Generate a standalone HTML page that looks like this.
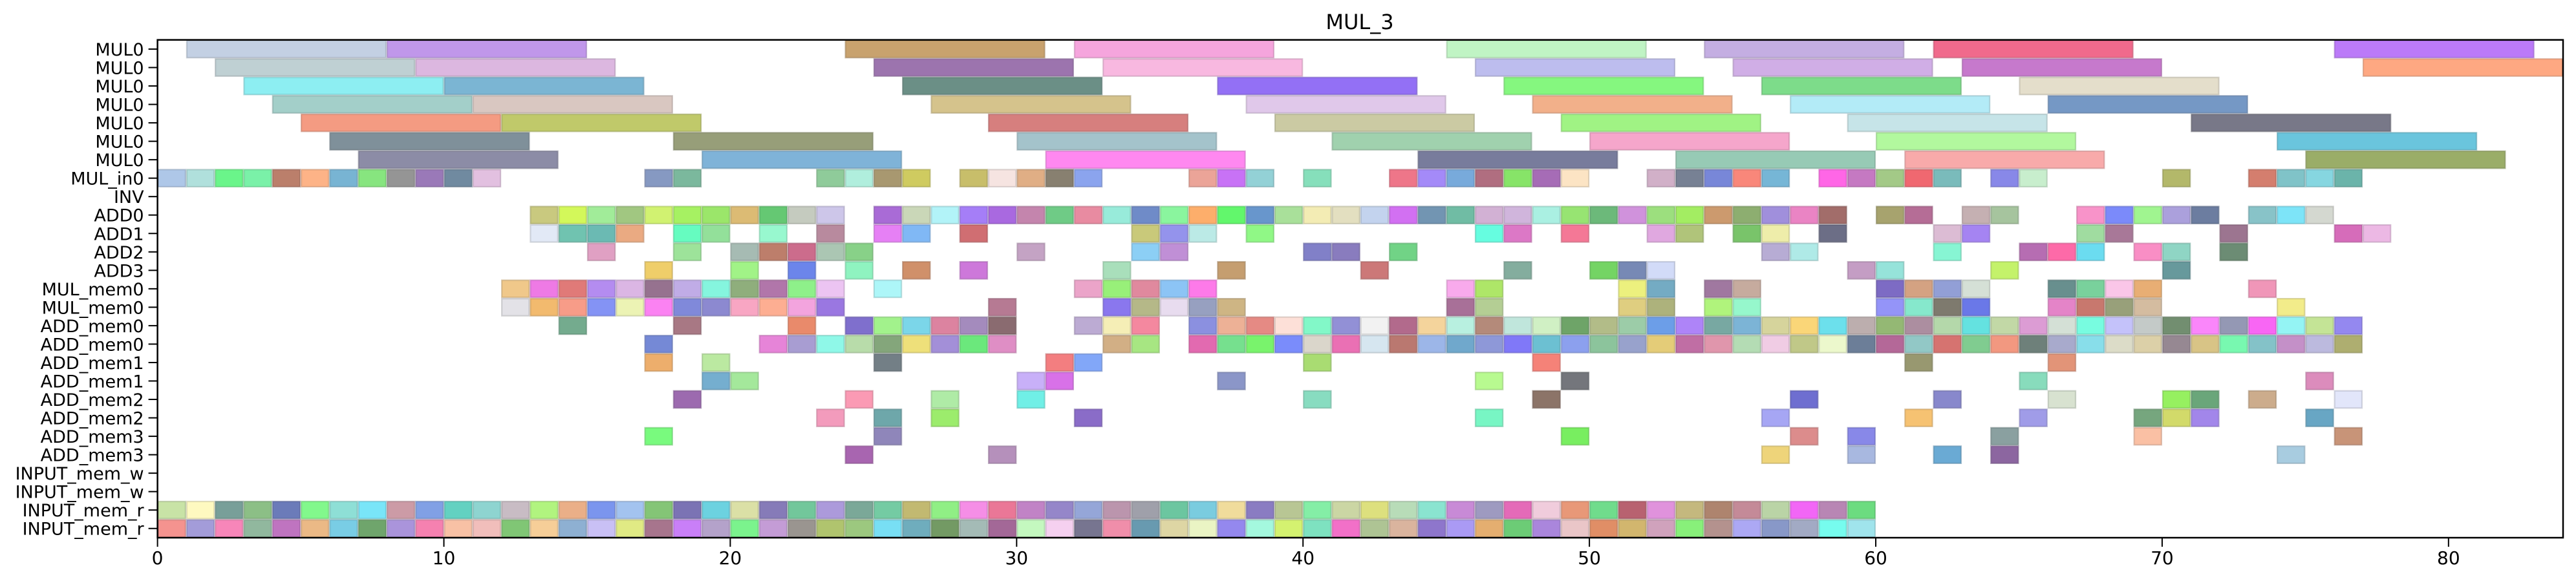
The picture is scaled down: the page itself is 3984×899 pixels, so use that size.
<!DOCTYPE html>
<html><head><meta charset="utf-8"><title>MUL_3</title>
<style>
html,body{margin:0;padding:0;background:#fff;}
svg{display:block;font-family:"DejaVu Sans","Liberation Sans",sans-serif;}
</style></head>
<body>
<svg id="chart" width="3984" height="899" viewBox="0 0 3984 899" xmlns="http://www.w3.org/2000/svg">
<rect x="0" y="0" width="3984" height="899" fill="#fff"/>
<text x="2103" y="45" font-size="32" text-anchor="middle" fill="#000">MUL_3</text>
<g id="bars"></g>
<g id="yaxis"></g>
<g id="xaxis"></g>
<rect x="243.6" y="61.7" width="3720.4" height="770.3" fill="none" stroke="#000" stroke-width="2.5"/>
</svg>
<script>
const rowLabels = ["MUL0","MUL0","MUL0","MUL0","MUL0","MUL0","MUL0","MUL_in0","INV","ADD0","ADD1","ADD2","ADD3","MUL_mem0","MUL_mem0","ADD_mem0","ADD_mem0","ADD_mem1","ADD_mem1","ADD_mem2","ADD_mem2","ADD_mem3","ADD_mem3","INPUT_mem_w","INPUT_mem_w","INPUT_mem_r","INPUT_mem_r"];
const rowDurations = [7,7,7,7,7,7,7,1,1,1,1,1,1,1,1,1,1,1,1,1,1,1,1,1,1,1,1];
const xTicks = [0,10,20,30,40,50,60,70,80];
const xMax = 84;
const rowStarts = [
 [1,8,24,32,45,54,62,76],
 [2,9,25,33,46,55,63,77],
 [3,10,26,37,47,56,65],
 [4,11,27,38,48,57,66],
 [5,12,29,39,49,59,71],
 [6,18,30,41,50,60,74],
 [7,19,31,44,53,61,75],
 [0,1,2,3,4,5,6,7,8,9,10,11,17,18,23,24,25,26,28,29,30,31,32,36,37,38,40,43,44,45,46,47,48,49,52,53,54,55,56,58,59,60,61,62,64,65,70,73,74,75,76],
 [],
 [13,14,15,16,17,18,19,20,21,22,23,25,26,27,28,29,30,31,32,33,34,35,36,37,38,39,40,41,42,43,44,45,46,47,48,49,50,51,52,53,54,55,56,57,58,60,61,63,64,67,68,69,70,71,73,74,75],
 [13,14,15,16,18,19,21,23,25,26,28,34,35,36,38,46,47,49,52,53,55,56,58,62,63,67,68,72,76,77],
 [15,18,20,21,22,23,24,30,34,35,40,41,43,56,57,62,65,66,67,69,70,72],
 [17,20,22,24,26,28,33,37,42,47,50,51,52,59,60,64,70],
 [12,13,14,15,16,17,18,19,20,21,22,23,25,32,33,34,35,36,45,46,51,52,54,55,60,61,62,63,66,67,68,69,73],
 [12,13,14,15,16,17,18,19,20,21,22,23,29,33,34,35,36,37,45,46,51,52,54,55,60,61,62,63,66,67,68,69,74],
 [14,18,22,24,25,26,27,28,29,32,33,34,36,37,38,39,40,41,42,43,44,45,46,47,48,49,50,51,52,53,54,55,56,57,58,59,60,61,62,63,64,65,66,67,68,69,70,71,72,73,74,75,76],
 [17,21,22,23,24,25,26,27,28,29,33,34,36,37,38,39,40,41,42,43,44,45,46,47,48,49,50,51,52,53,54,55,56,57,58,59,60,61,62,63,64,65,66,67,68,69,70,71,72,73,74,75,76],
 [17,19,25,31,32,40,48,61,66],
 [19,20,30,31,37,46,49,65,75],
 [18,24,27,30,40,48,57,62,66,70,71,73,76],
 [23,25,27,32,46,56,61,65,69,70,71,75],
 [17,25,49,57,59,64,69,76],
 [24,29,56,59,62,64,74],
 [],
 [],
 [0,1,2,3,4,5,6,7,8,9,10,11,12,13,14,15,16,17,18,19,20,21,22,23,24,25,26,27,28,29,30,31,32,33,34,35,36,37,38,39,40,41,42,43,44,45,46,47,48,49,50,51,52,53,54,55,56,57,58,59],
 [0,1,2,3,4,5,6,7,8,9,10,11,12,13,14,15,16,17,18,19,20,21,22,23,24,25,26,27,28,29,30,31,32,33,34,35,36,37,38,39,40,41,42,43,44,45,46,47,48,49,50,51,52,53,54,55,56,57,58,59]
];
const rowColors = [
 ["#c3d0e3","#c097ea","#c8a26e","#f5a5dd","#c0f4c4","#c4aee2","#f06a8c","#bb7af8"],
 ["#bfd0d3","#dcb7e0","#9c74ae","#f8b8e0","#bdbdee","#d0aee6","#c679cc","#fea882"],
 ["#8deef2","#7bb5d3","#6b8f86","#9370f5","#85f77f","#7ddc8a","#e4decb"],
 ["#a3cfc9","#d9c7c1","#d5c38c","#e0c8ea","#f2b08a","#b3ebf7","#7598c5"],
 ["#f49b82","#c0c96a","#d67f7e","#cbcaa3","#a0f384","#c6e4e8","#787888"],
 ["#7f909a","#979e79","#a4c3cb","#a0d1ae","#f5a6cb","#b2f89e","#6ac5dd"],
 ["#8c8ca6","#7fb3d8","#ff88f0","#787c9c","#97cab5","#f8aaaa","#9aad68"],
 ["#aec7e8","#b0e0dc","#6af58a","#7af1a8","#bb7f6b","#fdb387","#78b4d3","#87e57f","#959595","#9a79b8","#708aa0","#e2c0e0","#8699c2","#7bb89d","#8fcb9a","#b0eedd","#a89870","#cfcb60","#c8be6a","#f6e4e1","#e0ae85","#888070","#8ba4ee","#eba498","#c872f6","#93d1d6","#86dfbb","#ee7689","#a48af8","#78aadb","#b06e80","#87e468","#a66cb6","#fce4c4","#d1b0c8","#778194","#7887d8","#f9877a","#76b6d6","#ff66e6","#c579c2","#a3c987","#f06870","#7abbbb","#8888e8","#c8eecd","#b3b86a","#d47e6e","#80c3c8","#86d6e0","#6bb4aa"],
 [],
 ["#c9c97f","#d3f85a","#a1ec99","#a1c781","#d1f271","#a6f162","#9be66a","#dcbb74","#65c873","#c5cbbf","#cdc6e9","#a96bd6","#cad7b8","#b2f3f8","#a57ef7","#a969e0","#c485ad","#6fcb86","#e88ba1","#98ebda","#6f8bc8","#8af59e","#fdae6b","#62f76c","#6896cc","#a9e09a","#f3ecb4","#e3dfc0","#c3d3ee","#d270f2","#7295b2","#70bca4","#d2b1d4","#d0b5dc","#aaf0e2","#97e472","#6cb97a","#d092dc","#9cdf7e","#a3ed62","#cc9a6e","#8dae70","#a08fdc","#ea84c4","#a26d6a","#a7a36e","#b56d96","#c5b0b2","#a6c49e","#f893c9","#7b8afa","#a0f590","#aba0dc","#6c7da0","#88c3c8","#7de4f8","#d4d8d0"],
 ["#e2e9f6","#70c3b0","#6bbab3","#eaaa82","#66fcc0","#93e09a","#98f8cf","#b88a9e","#e680f5","#80b8f5","#d06e72","#c9c97a","#9493ec","#bbeae6","#90f886","#66fde0","#dc78c6","#f47896","#e0a8e0","#b0c47a","#79c46a","#eeedaa","#6c6e86","#dcbcd4","#a584f2","#a0dca0","#a87898","#9c7590","#d66cba","#ecb8e4"],
 ["#e0a0c3","#9de39a","#a6bbb3","#bd7e6b","#cc6c8c","#abc6b3","#88d188","#c4a3c4","#8ccff5","#c08fd6","#8180c8","#897cbe","#71d386","#b7acd4","#afeae7","#87f5d3","#b66db2","#fd6aa8","#6bdcf0","#f98ec5","#8fd5c4","#6c8c74"],
 ["#efce6a","#a1f387","#6c85ea","#8ff3c0","#d0906a","#cd78da","#a9dfbb","#c59e70","#cc7878","#84ad9e","#74d464","#7789b5","#d2dbf8","#c49dc4","#96e3da","#c4f26a","#67999c"],
 ["#f0c88a","#ee7ae5","#e07a78","#b48cf0","#dbb6e4","#96728f","#c0ace6","#85f5de","#8fae7c","#b176aa","#8ef08a","#ecc4f2","#adf6f8","#eba4c9","#98f079","#e0899e","#8cc4f5","#fd7ae9","#f8aaec","#aee668","#ecf07e","#74abc3","#a078a0","#c6ab9e","#7d6bc4","#d4a282","#929fd6","#d5e0d6","#688f8e","#79d19c","#fac6e8","#e8ae74","#f096b8"],
 ["#e3e2e7","#f2ba6e","#f79c88","#8493f5","#ecf3b4","#fb82f2","#8089da","#8c89d0","#f8a6c3","#fdae92","#f3a4de","#9a77e1","#b67a93","#8a77ee","#b5b888","#e8dcef","#97a0c0","#ceb584","#a87098","#b4ce94","#dfce80","#adb27c","#b0f47c","#96f7cc","#9494f8","#86e8cc","#7e7a6e","#6a78e8","#e484c8","#c8786e","#98a07a","#d4bca0","#f2ec8a"],
 ["#74ab8e","#a87884","#e98a6b","#7f6fcd","#a2f28c","#7bd6e9","#dc83a0","#a48bbd","#8a6b70","#bcabd3","#f5eeb6","#f4889f","#8b90e0","#edb196","#e58a84","#fde0d8","#82f8c8","#9290d6","#f2f2f2","#b26a8c","#f4d49c","#b8f0e0","#b48a7a","#c0e6dc","#d0f0c4","#6ea468","#b2bc88","#9ccca8","#6c9ee8","#ae84f8","#78a8a2","#7cb4d6","#d6d49c","#fad678","#6ce0ec","#bcaeae","#94b874","#ac8ea0","#b4d8aa","#64e2e0","#c2d8a6","#dc9cd4","#d4e0d6","#78fce0","#c4c2fa","#c4cac8","#728e70","#fa86fa","#9498b4","#f866f4","#94f4f4","#c4e496","#9488f0"],
 ["#7589d6","#e684d8","#a89dd2","#8ff8e8","#b8dcaa","#84a67b","#eee07a","#a38fd8","#6be87c","#df8ec5","#d2af85","#a7e682","#e26ab0","#76e08e","#79f36c","#7a8cfb","#dad6cb","#ea70b4","#d6e6f0","#ba7870","#9cb6e8","#70a8cc","#8e98d8","#8078f8","#6cc0d2","#8ca0ee","#8cc49c","#98a2cc","#e4cc78","#c06ea4","#e096ac","#b4dcb4","#f0cce4","#c0c888","#ecf8cc","#6c7e98","#b46898","#92c8c6","#d67370","#80cc90","#f29880","#6e807a","#a8aacc","#88deea","#dcdcc8","#dcd0a8","#968892","#d8c486","#78f8b0","#84c2c8","#c490c8","#bcbade","#aeae70"],
 ["#edae6c","#bbe9a1","#737f86","#f37e80","#82a7f8","#a9dc72","#f58278","#989870","#e29478"],
 ["#75aecf","#a4e89b","#c8b0f8","#d871e8","#8b96c8","#b8fa90","#74767c","#88dcbc","#dc8cbc"],
 ["#9c6aaf","#fb9ab4","#afeba6","#70efe6","#88dcc0","#8c7468","#6e6ed0","#8888cc","#d8e2d0","#96f060","#6aa67a","#ccac8c","#e2e6fa"],
 ["#f39bbc","#6ea7aa","#9cec6c","#8a6cc8","#78f6c4","#a6a6f4","#f6c272","#a09ce8","#76a67e","#d2da6a","#a286ea","#68a6c4"],
 ["#79fa7e","#8f86ba","#78ee60","#dc8c8c","#8888e8","#8aa0a0","#fac0a4","#c89478"],
 ["#a865b0","#b590bb","#eed47a","#a8b8e0","#6aaad4","#8c66a0","#a8cce0"],
 [],
 [],
 ["#c8e3a6","#fef9c0","#789f99","#8cbf86","#6b7bb9","#82f88c","#8edfd6","#79e5f8","#cc9ba6","#81a0e5","#63d1c1","#8ed4d0","#c8bcc4","#b1f47f","#eaaf88","#7b95ee","#a3c3ef","#84c576","#7b73b4","#6cd2e0","#dbe0a6","#867bb8","#72c79b","#ac9adb","#7ba898","#74cba3","#c2b971","#90ef85","#f58ee6","#ea7797","#c183c6","#9586c9","#95a6d8","#bb95ad","#9fa0aa","#6cc6a0","#7accdf","#f0dc9c","#8a7cc2","#b8c694","#84eea6","#cbd6a4","#dde07e","#b8dcb8","#8ae4d0","#c88ad6","#9e9ac0","#e46ab8","#f0ccdc","#e89878","#70dc8c","#b86270","#e092dc","#c4b87e","#ae846e","#c48a98","#bad4a6","#f266f6","#b886b4","#6cdc80"],
 ["#f4938f","#a39cd9","#f786b9","#91b89e","#bf74c0","#ebb986","#79cde5","#6fa56c","#aa94db","#f581b0","#f8c1a5","#f1bebb","#80c675","#f6ce98","#8eb0d2","#c9c0f5","#e0ea84","#a7758d","#c97ff8","#b4a2ca","#7bf38d","#c49cd6","#9a9590","#b0c46e","#9cc87f","#78dff4","#6fadbd","#739a64","#a4bbb6","#a36897","#c4f8bf","#f5d0f0","#777590","#f08eaa","#689ab0","#ded6a4","#eaf4c4","#9488ee","#a4f8de","#d4f270","#7ee2c0","#f270c8","#aec494","#dab49e","#8e76cc","#aa9af4","#e4ae70","#6ccc76","#aa86dc","#eac6c8","#e08e66","#d2b66e","#d0a2bc","#88f07a","#b4928e","#aca8f4","#8898c8","#a2aac4","#76fcee","#a0e4ec"]
];

const NS = "http://www.w3.org/2000/svg";
const plotL = 243.6, plotR = 3964, plotT = 61.7, plotB = 832;
const rowH = (plotB - plotT) / rowLabels.length;
function xScale(v){ return plotL + (plotR - plotL) * v / xMax; }
function yTop(r){ return plotT + rowH * r; }
function darker(hex){
  const n = parseInt(hex.slice(1),16);
  const f = 0.78;
  const r = Math.round(((n>>16)&255)*f), g = Math.round(((n>>8)&255)*f), b = Math.round((n&255)*f);
  return "rgb("+r+","+g+","+b+")";
}

const bars = document.getElementById("bars");
for (let r = 0; r < rowStarts.length; r++) {
  const starts = rowStarts[r];
  for (let i = 0; i < starts.length; i++) {
    const x0 = xScale(starts[i]);
    const x1 = xScale(starts[i] + rowDurations[r]);
    const rect = document.createElementNS(NS, "rect");
    rect.setAttribute("x", x0 + 1);
    rect.setAttribute("y", yTop(r) + 1);
    rect.setAttribute("width", x1 - x0 - 2);
    rect.setAttribute("height", rowH - 2);
    const c = (rowColors[r] && rowColors[r][i]) || "#999999";
    rect.setAttribute("fill", c);
    rect.setAttribute("stroke", darker(c));
    rect.setAttribute("stroke-opacity", "0.55");
    rect.setAttribute("stroke-width", "2.2");
    
    
    bars.appendChild(rect);
  }
}

const yaxis = document.getElementById("yaxis");
for (let r = 0; r < rowLabels.length; r++) {
  const cy = yTop(r) + rowH / 2;
  const tick = document.createElementNS(NS, "line");
  tick.setAttribute("x1", plotL - 14); tick.setAttribute("x2", plotL);
  tick.setAttribute("y1", cy); tick.setAttribute("y2", cy);
  tick.setAttribute("stroke", "#000"); tick.setAttribute("stroke-width", "2");
  
  
  yaxis.appendChild(tick);
  const t = document.createElementNS(NS, "text");
  t.setAttribute("x", plotL - 21);
  t.setAttribute("y", cy + 10);
  t.setAttribute("font-size", "27");
  t.setAttribute("text-anchor", "end");
  t.textContent = rowLabels[r];
  
  
  yaxis.appendChild(t);
}

const xaxis = document.getElementById("xaxis");
for (let i = 0; i < xTicks.length; i++) {
  const x = xScale(xTicks[i]);
  const tick = document.createElementNS(NS, "line");
  tick.setAttribute("x1", x); tick.setAttribute("x2", x);
  tick.setAttribute("y1", plotB); tick.setAttribute("y2", plotB + 14);
  tick.setAttribute("stroke", "#000"); tick.setAttribute("stroke-width", "2");
  
  
  xaxis.appendChild(tick);
  const t = document.createElementNS(NS, "text");
  t.setAttribute("x", x);
  t.setAttribute("y", 873);
  t.setAttribute("font-size", "28");
  t.setAttribute("text-anchor", "middle");
  t.textContent = String(xTicks[i]);
  
  
  xaxis.appendChild(t);
}
</script>
</body></html>
